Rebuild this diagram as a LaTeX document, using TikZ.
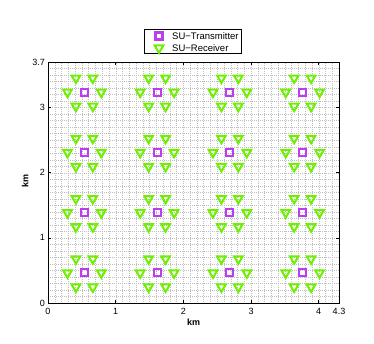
\documentclass[tikz,border=0pt]{standalone}
\usepackage{fontspec}
\setmainfont{Liberation Sans}
\usetikzlibrary{shapes.geometric}
\definecolor{txcol}{RGB}{190,60,240}
\definecolor{rxcol}{RGB}{110,240,0}
\begin{document}
\begin{tikzpicture}[x=1pt,y=1pt,
  txmark/.style={draw=txcol, line width=2.1pt, rectangle, minimum size=7pt, inner sep=0pt, outer sep=0pt},
  rxmark/.style={draw=rxcol, line width=2pt, line join=miter, regular polygon, regular polygon sides=3, shape border rotate=180, minimum size=10pt, inner sep=0pt, outer sep=0pt},
  gridline/.style={black!25, line width=0.35pt, dash pattern=on 0.4pt off 1.6pt},
  frameline/.style={black, line width=0.5pt},
  ticklab/.style={font=\fontsize{9}{10}\selectfont, inner sep=0pt},
  axlab/.style={font=\fontsize{9}{10}\selectfont\bfseries, inner sep=0pt},
  legtext/.style={font=\fontsize{9.5}{11}\selectfont, inner sep=0pt, anchor=west}]
\useasboundingbox (0,0) rectangle (374,343);
\fill[white] (0,0) rectangle (374,343);
\begin{scope}[shift={(48,40)}, x=67.674pt, y=65.135pt]
  % grid
  \foreach \i in {1,...,42} {\draw[gridline] (\i/10,0) -- (\i/10,3.7);}
  \foreach \j in {1,...,36} {\draw[gridline] (0,\j/10) -- (4.3,\j/10);}
  % markers
  \foreach \ix in {0,1,2,3} {
    \foreach \iy in {0,1,2,3} {
      \pgfmathsetmacro{\cx}{0.5375+1.075*\ix}
      \pgfmathsetmacro{\cy}{0.4625+0.925*\iy}
      \node[txmark] (t-\ix-\iy) at (\cx,\cy) {};
      \foreach \a in {0,60,120,180,240,300} {
        \node[rxmark] (r-\ix-\iy-\a) at ({\cx+0.25*cos(\a)},{\cy+0.25*sin(\a)}) {};
      }
    }
  }
  % frame
  \draw[frameline] (0,0) rectangle (4.3,3.7);
  \foreach \x in {1,2,3,4} {
    \draw[frameline] (\x,0) -- ++(0,3pt);
    \draw[frameline] (\x,3.7) -- ++(0,-3pt);
  }
  \foreach \y in {1,2,3} {
    \draw[frameline] (0,\y) -- ++(3pt,0);
    \draw[frameline] (4.3,\y) -- ++(-3pt,0);
  }
  % tick labels
  \foreach \x in {0,1,2,3,4,4.3} {
    \node[ticklab, anchor=north] (xl-\x) at ([yshift=-5pt]\x,0) {\x};
  }
  \foreach \y in {0,1,2,3,3.7} {
    \node[ticklab, anchor=east] (yl-\y) at ([xshift=-3pt]0,\y) {\y};
  }
\end{scope}
\node[axlab] (xlabel) at (193.5,21) {km};
\node[axlab, rotate=90] (ylabel) at (25,162) {km};
% legend
\draw[frameline] (144,290) rectangle (241,314);
\node[txmark] (legtx) at (159,307) {};
\node[rxmark] (legrx) at (159,295) {};
\node[legtext] (legtxt1) at (172,307) {SU−Transmitter};
\node[legtext] (legtxt2) at (172,295) {SU−Receiver};
\end{tikzpicture}
\end{document}
